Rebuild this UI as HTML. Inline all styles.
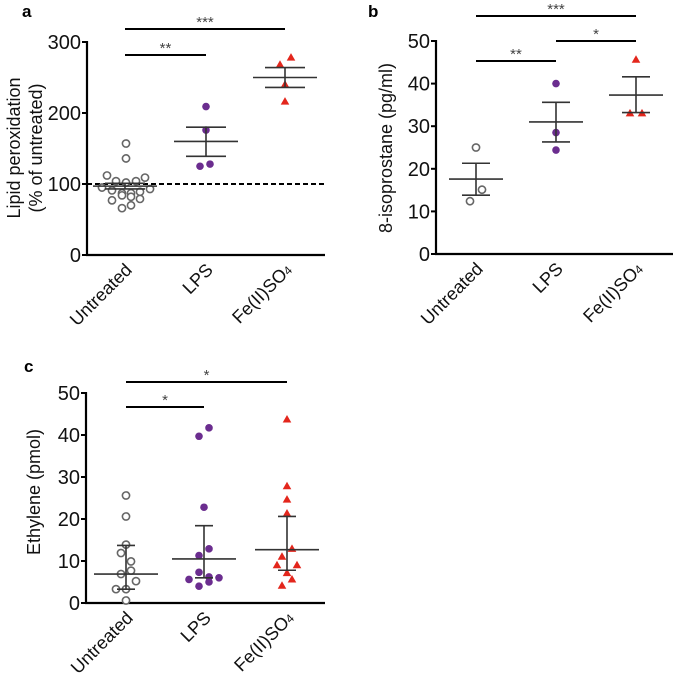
<!DOCTYPE html>
<html><head><meta charset="utf-8"><style>
html,body{margin:0;padding:0;background:#fff;}
svg{display:block;font-family:"Liberation Sans",sans-serif;}
</style></head><body>
<svg id="chart" width="673" height="685" viewBox="0 0 673 685" xmlns="http://www.w3.org/2000/svg"></svg>
<script>
const categories = ["Untreated","LPS","Fe(II)SO4"];
// Panel a
const aUntreated = [157,136,112,104,102,104,109,95,93,91,87,87,89,77,84,82,79,66,70];
const aUntreatedJit = [1,1,-18,-9,1,11,20,-23,25,-13,-3,6,15,-13,-3,6,15,-3,6];
const aLPS = [209,176,125,128];
const aLPSJit = [0,0,-6,4];
const aFe = [278,268,240,216];
const aFeJit = [6,-5,0,0];
const aMean = [97,160,250];
const aErrLo = [93,139,236];
const aErrHi = [101,180,264];
const aTicks = [0,100,200,300];
// Panel b
const bUntreated = [25.0,15.1,12.4];
const bUntreatedJit = [0,6,-6];
const bLPS = [40,28.5,24.4];
const bLPSJit = [0,0,0];
const bFe = [45.6,33,33];
const bFeJit = [0,-6,6];
const bMean = [17.6,31,37.3];
const bErrLo = [13.8,26.3,33.2];
const bErrHi = [21.3,35.6,41.6];
const bTicks = [0,10,20,30,40,50];
// Panel c
const cUntreated = [25.6,20.6,13.9,11.9,9.9,7.7,6.9,5.2,3.3,3.3,0.6];
const cUntreatedJit = [0,0,0,-5,5,5,-5,10,-10,0,0];
const cLPS = [41.7,39.7,22.8,12.9,11.3,7.3,6.2,5.6,6.0,5.0,4.0];
const cLPSJit = [5,-5,0,5,-5,-5,5,-15,15,5,-5];
const cFe = [43.7,27.8,24.6,21.3,12.9,11.0,9.0,9.0,7.1,5.6,4.1];
const cFeJit = [0,0,0,0,5,-5,10,-10,0,5,-5];
const cMed = [6.9,10.5,12.7];
const cErrLo = [3.3,6.0,7.8];
const cErrHi = [13.7,18.4,20.6];
const cTicks = [0,10,20,30,40,50];

const svg = document.getElementById('chart');
const NS = 'http://www.w3.org/2000/svg';
function el(tag, attrs, parent){const e=document.createElementNS(NS,tag);for(const k in attrs)e.setAttribute(k,attrs[k]);(parent||svg).appendChild(e);return e;}
const PURPLE='#6b2d8f', RED='#e3261c', GRAY='#666';

function panel(p){
  const g = el('g',{});
  
  
  const y = v => p.y0 - (v - p.vmin)/(p.vmax - p.vmin)*(p.y0 - p.y1);
  const x = i => p.xs[i];
  const L = el('text',{x:p.letter[0],y:p.letter[1],'font-size':17,'font-weight':'bold',fill:'#000'},g);
  L.textContent=p.label;
  
  
  const ya = el('line',{x1:p.ax,y1:y(p.vmax)-1,x2:p.ax,y2:p.y0+1,stroke:'#000','stroke-width':2.2},g);
  
  
  const xa = el('line',{x1:p.ax-1,y1:p.y0,x2:p.axEnd,y2:p.y0,stroke:'#000','stroke-width':2.2},g);
  
  
  p.ticks.forEach(t=>{
    el('line',{x1:p.ax-5,y1:y(t),x2:p.ax,y2:y(t),stroke:'#000','stroke-width':2},g);
    const tl = el('text',{x:p.ax-6,y:y(t)+7,'font-size':20,'text-anchor':'end',fill:'#111'},g);
    tl.textContent=t;
    
    
  });
  p.title.forEach((t,k)=>{
    const tx = el('text',{x:0,y:0,'font-size':18,'text-anchor':'middle',fill:'#111',transform:`translate(${p.titleX[k]},${p.titleY}) rotate(-90)`},g);
    tx.textContent=t;
    
    
  });
  categories.forEach((c,i)=>{
    const t = el('text',{x:0,y:0,'font-size':18,'text-anchor':'end',fill:'#111',transform:`translate(${x(i)+8},${p.y0+16}) rotate(-45)`},g);
    if(c==='Fe(II)SO4'){t.textContent='Fe(II)SO';const s=el('tspan',{'font-size':12},t);s.textContent='4';}
    else t.textContent=c;
    
    
  });
  if(p.ref!==undefined){
    const d=el('line',{x1:p.ax,y1:y(p.ref),x2:p.axEnd,y2:y(p.ref),stroke:'#000','stroke-width':2,'stroke-dasharray':'5,3'},g);
    
    
  }
  const series=[[p.d[0],p.j[0],'o'],[p.d[1],p.j[1],'p'],[p.d[2],p.j[2],'t']];
  series.forEach((s,i)=>{
    s[0].forEach((v,k)=>{
      const cx=x(i)+s[1][k], cy=y(v);
      let m;
      if(s[2]==='o') m=el('circle',{cx:cx,cy:cy,r:3.6,fill:'#fff',stroke:GRAY,'stroke-width':1.6},g);
      else if(s[2]==='p') m=el('circle',{cx:cx,cy:cy,r:3.8,fill:PURPLE},g);
      else m=el('polygon',{points:`${cx},${cy-4.5} ${cx-4.3},${cy+3} ${cx+4.3},${cy+3}`,fill:RED},g);
      
      
    });
  });
  categories.forEach((c,i)=>{
    const ln=el('line',{x1:x(i)-p.mw,y1:y(p.mean[i]),x2:x(i)+p.mw,y2:y(p.mean[i]),stroke:'#333','stroke-width':1.6},g);
    
    
    const eb=el('path',{d:`M${x(i)},${y(p.lo[i])}V${y(p.hi[i])}M${x(i)-p.cw},${y(p.lo[i])}H${x(i)+p.cw}M${x(i)-p.cw},${y(p.hi[i])}H${x(i)+p.cw}`,stroke:'#333','stroke-width':1.6,fill:'none'},g);
    
    
  });
  p.sig.forEach(s=>{
    const sl=el('line',{x1:x(s[0]),y1:s[2],x2:x(s[1]),y2:s[2],stroke:'#000','stroke-width':2},g);
    
    
    const st=el('text',{x:(x(s[0])+x(s[1]))/2,y:s[2]-2,'font-size':15,'text-anchor':'middle',fill:'#444'},g);
    st.textContent=s[3];
    
    
  });
}

panel({name:'panel-a',label:'a',letter:[22,17],ax:87,axEnd:325,y0:255,y1:42,vmin:0,vmax:300,xs:[125,206,285],
  ticks:aTicks,title:['Lipid peroxidation','(% of untreated)'],titleX:[20,42],titleY:148,ref:100,
  d:[aUntreated,aLPS,aFe],j:[aUntreatedJit,aLPSJit,aFeJit],mean:aMean,lo:aErrLo,hi:aErrHi,mw:32,cw:20,
  sig:[[0,2,29,'***'],[0,1,55,'**']]});
panel({name:'panel-b',label:'b',letter:[368,17],ax:436,axEnd:673,y0:254,y1:41,vmin:0,vmax:50,xs:[476,556,636],
  ticks:bTicks,title:['8-isoprostane (pg/ml)'],titleX:[392],titleY:148,
  d:[bUntreated,bLPS,bFe],j:[bUntreatedJit,bLPSJit,bFeJit],mean:bMean,lo:bErrLo,hi:bErrHi,mw:27,cw:14,
  sig:[[0,2,16,'***'],[1,2,41,'*'],[0,1,61,'**']]});
panel({name:'panel-c',label:'c',letter:[24,372],ax:86,axEnd:325,y0:603,y1:393,vmin:0,vmax:50,xs:[126,204,287],
  ticks:cTicks,title:['Ethylene (pmol)'],titleX:[40],titleY:492,
  d:[cUntreated,cLPS,cFe],j:[cUntreatedJit,cLPSJit,cFeJit],mean:cMed,lo:cErrLo,hi:cErrHi,mw:32,cw:9,
  sig:[[0,2,382,'*'],[0,1,407,'*']]});
</script>
</body></html>
